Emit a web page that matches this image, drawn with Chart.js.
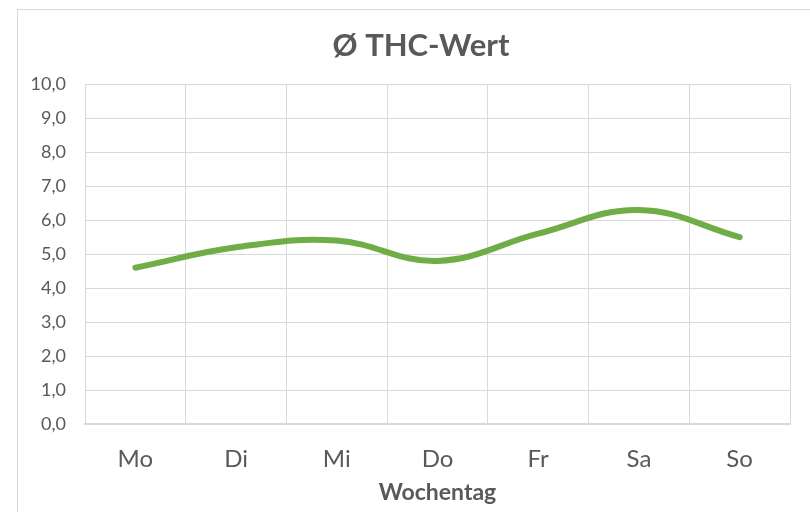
<!DOCTYPE html>
<html lang="de">
<head>
<meta charset="utf-8">
<title>Ø THC-Wert</title>
<script src="https://cdn.jsdelivr.net/npm/chart.js@4.4.1/dist/chart.umd.min.js"></script>
<style>
  html, body { margin: 0; padding: 0; background: #fff; }
  .wrap { position: relative; width: 810px; height: 512px; overflow: hidden; }
  .rahmen {
    position: absolute; left: 17px; top: 9px; width: 820px; height: 520px;
    border-top: 1px solid #d9d9d9; border-left: 1px solid #d9d9d9;
    pointer-events: none;
  }
  canvas { position: absolute; left: 0; top: 0; }
</style>
</head>
<body>
<div class="wrap">
  <canvas id="thcChart" width="810" height="512"></canvas>
  <div class="rahmen"></div>
</div>
<script>
// Wochentage und Durchschnittswerte
const tage = ['Mo', 'Di', 'Mi', 'Do', 'Fr', 'Sa', 'So'];
const thcWerte = [4.6, 5.2, 5.4, 4.8, 5.6, 6.3, 5.5];
const yMin = 0;
const yMax = 10;
const yStep = 1;

const grau = '#595959';
const gitter = '#d9d9d9';

// Titel ein Stueck nach rechts ruecken (sitzt sonst zu weit links)
const titelVersatz = {
  id: 'titelVersatz',
  afterLayout(c) {
    const t = c.titleBlock;
    if (t) {
      t.left += 26;
      t.right += 26;
    }
  }
};

const chart = new Chart(document.getElementById('thcChart'), {
  type: 'line',
  data: {
    labels: tage,
    datasets: [{
      label: 'Ø THC-Wert',
      data: thcWerte,
      borderColor: '#70ad47',
      borderWidth: 6,
      borderCapStyle: 'round',
      borderJoinStyle: 'round',
      tension: 0.4,
      pointRadius: 0,
      fill: false
    }]
  },
  options: {
    responsive: false,
    animation: false,
    layout: { padding: { left: 0, right: 20, top: 0, bottom: 0 } },
    plugins: {
      legend: { display: false },
      tooltip: { enabled: false },
      title: {
        display: true,
        text: 'Ø THC-Wert',
        color: grau,
        font: { family: 'Lato', size: 31, weight: 'bold', lineHeight: 1.2 },
        padding: { top: 27, bottom: 20 }
      }
    },
    scales: {
      x: {
        offset: true,
        grid: { offset: true, color: gitter, lineWidth: 1, drawTicks: false },
        border: { color: gitter, width: 2 },
        ticks: {
          color: grau,
          font: { family: 'Lato', size: 24 },
          padding: 21
        },
        title: {
          display: true,
          text: 'Wochentag',
          color: grau,
          font: { family: 'Lato', size: 23, weight: 'bold', lineHeight: 1.2 },
          padding: { top: 0, bottom: 6 }
        },
        afterFit(scale) { scale.height = 88; }
      },
      y: {
        min: yMin,
        max: yMax,
        grid: { color: gitter, lineWidth: 1, drawTicks: false },
        border: { color: gitter, width: 1 },
        ticks: {
          stepSize: yStep,
          color: grau,
          font: { family: 'Lato', size: 18 },
          padding: 19,
          callback: (v) => v.toFixed(1).replace('.', ',')
        },
        afterFit(scale) { scale.width = 85; }
      }
    }
  },
  plugins: [titelVersatz]
});
</script>
</body>
</html>
